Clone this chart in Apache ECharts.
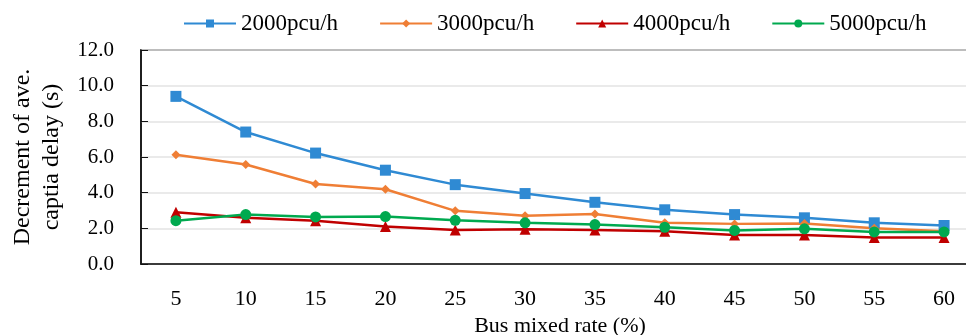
<!DOCTYPE html>
<html>
<head>
	<meta charset="utf-8"/>
	<title>Bus mixed rate</title>
	<style>
		* { margin: 0; padding: 0; }
		html, body { width: 966px; height: 335px; background: #fff; }
		#main { width: 966px; height: 335px; }
	</style>
</head>
<body>
	<div id="main"></div>
	<script src="https://cdn.jsdelivr.net/npm/echarts@6/dist/echarts.min.js"></script>
	<script>
		var rates = ['5', '10', '15', '20', '25', '30', '35', '40', '45', '50', '55', '60'];
		var flow2000 = [9.40, 7.40, 6.22, 5.26, 4.45, 3.95, 3.46, 3.04, 2.77, 2.59, 2.31, 2.16];
		var flow3000 = [6.12, 5.58, 4.49, 4.19, 2.98, 2.70, 2.81, 2.31, 2.25, 2.27, 2.01, 1.84];
		var flow4000 = [2.90, 2.60, 2.42, 2.10, 1.90, 1.95, 1.90, 1.84, 1.62, 1.62, 1.48, 1.48];
		var flow5000 = [2.43, 2.77, 2.64, 2.66, 2.45, 2.31, 2.21, 2.06, 1.88, 1.97, 1.80, 1.80];
		var seriesNames = ['2000pcu/h', '3000pcu/h', '4000pcu/h', '5000pcu/h'];

		var font = '"Liberation Serif", "Times New Roman", serif';
		var chart = echarts.init(document.getElementById('main'));

		function line(name, data, color, symbol, size) {
			return {
				name: name,
				type: 'line',
				data: data,
				symbol: symbol,
				symbolSize: size,
				itemStyle: { color: color },
				lineStyle: { color: color, width: 2.5 }
			};
		}

		chart.setOption({
			animation: false,
			legend: {
				top: 7,
				left: 178,
				itemWidth: 52,
				itemHeight: 10,
				itemGap: 41,
				textStyle: { fontFamily: font, fontSize: 23, color: '#000' },
				data: seriesNames
			},
			grid: {
				left: 141,
				top: 50,
				width: 838,
				height: 214,
				outerBoundsMode: 'none',
				containLabel: false,
				show: true,
				borderColor: '#111',
				borderWidth: 1.5
			},
			xAxis: {
				type: 'category',
				data: rates,
				boundaryGap: true,
				axisLine: { lineStyle: { color: '#111', width: 1.5 } },
				axisTick: { show: false },
				axisLabel: { fontFamily: font, fontSize: 22, color: '#000', margin: 24 },
				name: 'Bus mixed rate (%)',
				nameLocation: 'middle',
				nameGap: 50,
				nameTextStyle: { fontFamily: font, fontSize: 22, color: '#000' }
			},
			yAxis: {
				type: 'value',
				min: 0,
				max: 12,
				interval: 2,
				axisLine: { show: true, lineStyle: { color: '#111', width: 1.5 } },
				axisTick: { show: true, inside: true, length: 7, lineStyle: { color: '#111' } },
				axisLabel: {
					fontFamily: font, fontSize: 21, color: '#000', margin: 27,
					formatter: function (v) { return v.toFixed(1); }
				},
				splitLine: { lineStyle: { color: '#e3e3e3', width: 1.5 } },
				name: 'Decrement of ave.\ncaptia delay (s)',
				nameLocation: 'middle',
				nameGap: 62,
				nameTextStyle: { fontFamily: font, fontSize: 24, color: '#000', lineHeight: 29 }
			},
			series: [
				line(seriesNames[0], flow2000, '#2f8ad3', 'rect', 11),
				line(seriesNames[1], flow3000, '#ef7e35', 'diamond', 9),
				line(seriesNames[2], flow4000, '#c00000', 'triangle', 11),
				line(seriesNames[3], flow5000, '#00a94f', 'circle', 11)
			]
		});
	</script>
</body>
</html>
